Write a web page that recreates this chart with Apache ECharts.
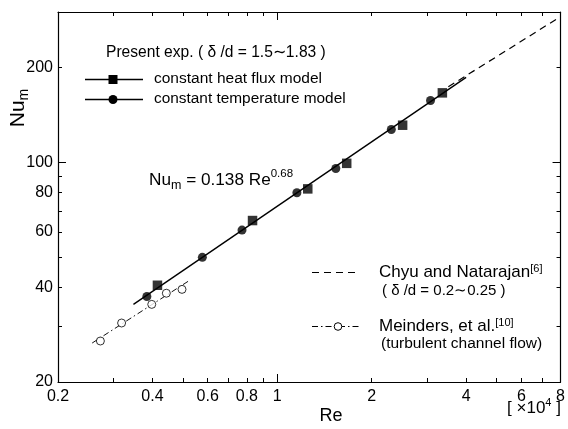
<!DOCTYPE html>
<html>
<head>
<meta charset="utf-8">
<script src="https://cdn.jsdelivr.net/npm/echarts@6/dist/echarts.min.js"></script>
<style>
  html, body { margin: 0; padding: 0; background: #fff; }
  #chart { width: 568px; height: 429px; }
</style>
</head>
<body>
<div id="chart"></div>
<script>
// Mean Nusselt number vs Reynolds number (Re in units of 10^4), log-log
const heatFluxRe = [0.415, 0.834, 1.251, 1.665, 2.51, 3.36];
const heatFluxNu = [40.6, 65.2, 82.2, 99.1, 131, 166];

const tempRe = [0.384, 0.577, 0.772, 1.155, 1.537, 2.31, 3.08];
const tempNu = [37.4, 49.8, 60.8, 79.9, 95.4, 127, 157];

const meindersRe = [0.273, 0.319, 0.398, 0.443, 0.497];
const meindersNu = [27.0, 30.8, 35.3, 38.3, 39.4];
const meindersLineRe = [0.257, 0.520];
const meindersLineNu = [26.6, 41.8];

// correlation Nu_m = 0.138 Re^0.68, end points
const fitRe = [0.348, 4.0];
const fitNu = [35.3, 186];

const chyuRe = [3.51, 8];
const chyuNu = [173.5, 290];

// axis ticks
const xLabelTicks = [0.2, 0.4, 0.6, 0.8, 1, 2, 4, 6, 8];
const xMinorTicks = [0.3, 0.4, 0.5, 0.6, 0.7, 0.8, 0.9, 2, 3, 4, 5, 6, 7];
const xDecadeTicks = [1];
const yLabelTicks = [20, 40, 60, 80, 100, 200];
const yMinorTicks = [30, 40, 50, 60, 70, 80, 90, 200];
const yDecadeTicks = [100];

const FONT = '"Liberation Sans", Arial, Helvetica, sans-serif';
const X_MIN = 0.2, X_MAX = 8, Y_MIN = 20, Y_MAX = 300;

const pair = (xs, ys) => xs.map((x, i) => [x, ys[i]]);

function makeAxis(kind, position, opts) {
  const isX = kind === 'x';
  return {
    type: 'log',
    logBase: 10,
    position: position,
    min: isX ? X_MIN : Y_MIN,
    max: isX ? X_MAX : Y_MAX,
    splitLine: { show: false },
    axisLine: { show: opts.line, onZero: false, lineStyle: { color: '#000', width: 1.2 } },
    axisTick: {
      show: true,
      inside: true,
      length: opts.tickLen,
      customValues: opts.ticks,
      lineStyle: { color: '#000', width: 1 }
    },
    axisLabel: opts.labels ? {
      show: true,
      customValues: opts.labels,
      margin: isX ? 7 : 5,
      color: '#000',
      fontFamily: FONT,
      fontSize: 16,
      formatter: v => String(+v.toPrecision(6))
    } : { show: false },
    minorTick: { show: false },
    minorSplitLine: { show: false }
  };
}

const chart = echarts.init(document.getElementById('chart'), null, { renderer: 'canvas' });

const legendRich = {
  t: { fontFamily: FONT, fontSize: 17, color: '#000' },
  sup: { fontFamily: FONT, fontSize: 11, color: '#000', verticalAlign: 'top', lineHeight: 10 }
};

chart.setOption({
  backgroundColor: '#fff',
  animation: false,
  grid: { left: 58, right: 2, top: 12, bottom: 47 },
  xAxis: [
    makeAxis('x', 'bottom', { line: true, tickLen: 4, ticks: xMinorTicks, labels: xLabelTicks }),
    makeAxis('x', 'bottom', { line: false, tickLen: 8, ticks: xDecadeTicks }),
    makeAxis('x', 'top', { line: true, tickLen: 4, ticks: xMinorTicks }),
    makeAxis('x', 'top', { line: false, tickLen: 8, ticks: xDecadeTicks })
  ],
  yAxis: [
    makeAxis('y', 'left', { line: true, tickLen: 4, ticks: yMinorTicks, labels: yLabelTicks }),
    makeAxis('y', 'left', { line: false, tickLen: 8, ticks: yDecadeTicks }),
    makeAxis('y', 'right', { line: true, tickLen: 4, ticks: yMinorTicks }),
    makeAxis('y', 'right', { line: false, tickLen: 8, ticks: yDecadeTicks })
  ],
  series: [
    {
      name: 'correlation',
      type: 'line',
      data: pair(fitRe, fitNu),
      showSymbol: false,
      lineStyle: { color: '#000', width: 1.4 },
      z: 2
    },
    {
      name: 'Chyu and Natarajan',
      type: 'line',
      data: pair(chyuRe, chyuNu),
      showSymbol: false,
      lineStyle: { color: '#000', width: 1.2, type: [7, 5] },
      z: 2
    },
    {
      name: 'Meinders line',
      type: 'line',
      data: pair(meindersLineRe, meindersLineNu),
      showSymbol: false,
      lineStyle: { color: '#111', width: 1, type: [6, 3, 1.5, 3] },
      z: 2
    },
    {
      name: 'Meinders, et al.',
      type: 'scatter',
      data: pair(meindersRe, meindersNu),
      symbol: 'circle',
      symbolSize: 8,
      itemStyle: { color: '#fff', borderColor: '#000', borderWidth: 1 },
      z: 3
    },
    {
      name: 'constant heat flux model',
      type: 'scatter',
      data: pair(heatFluxRe, heatFluxNu),
      symbol: 'rect',
      symbolSize: 9.5,
      itemStyle: { color: '#000' },
      z: 4
    },
    {
      name: 'constant temperature model',
      type: 'scatter',
      data: pair(tempRe, tempNu),
      symbol: 'circle',
      symbolSize: 9,
      itemStyle: { color: '#000' },
      z: 4
    }
  ],
  graphic: [
    // axis names
    {
      type: 'text', x: 18, y: 108, rotation: Math.PI / 2, z: 10,
      style: {
        text: '{a|Nu}{s|m}', align: 'center', verticalAlign: 'middle',
        rich: {
          a: { fontFamily: FONT, fontSize: 21, color: '#000', lineHeight: 26 },
          s: { fontFamily: FONT, fontSize: 14, color: '#000', verticalAlign: 'bottom', lineHeight: 12 }
        }
      }
    },
    {
      type: 'text', x: 331, y: 416, z: 10,
      style: { text: 'Re', fontFamily: FONT, fontSize: 18, fill: '#000', align: 'center', verticalAlign: 'middle' }
    },
    {
      type: 'text', x: 534, y: 408, z: 10,
      style: {
        text: '{a|[ ×10}{s|4}{a| ]}', align: 'center', verticalAlign: 'middle',
        rich: {
          a: { fontFamily: FONT, fontSize: 17, color: '#000', lineHeight: 22 },
          s: { fontFamily: FONT, fontSize: 11, color: '#000', verticalAlign: 'top', lineHeight: 10 }
        }
      }
    },
    // correlation label
    {
      type: 'text', x: 149, y: 180, z: 10,
      style: {
        text: '{a|Nu}{s|m}{a| = 0.138 Re}{p|0.68}', align: 'left', verticalAlign: 'middle',
        rich: {
          a: { fontFamily: FONT, fontSize: 17.2, color: '#000', lineHeight: 24 },
          s: { fontFamily: FONT, fontSize: 12.5, color: '#000', verticalAlign: 'bottom', lineHeight: 11 },
          p: { fontFamily: FONT, fontSize: 11.5, color: '#000', verticalAlign: 'top', lineHeight: 10 }
        }
      }
    },
    // legend: present experiments
    {
      type: 'text', x: 106, y: 53, z: 10,
      style: { text: 'Present exp. ( δ /d = 1.5∼1.83 )', fontFamily: FONT, fontSize: 15.6, fill: '#000', align: 'left', verticalAlign: 'middle' }
    },
    { type: 'line', z: 10, shape: { x1: 85, y1: 79.5, x2: 143, y2: 79.5 }, style: { stroke: '#000', lineWidth: 1.3 } },
    { type: 'rect', z: 11, shape: { x: 108.5, y: 75, width: 9, height: 9 }, style: { fill: '#000' } },
    {
      type: 'text', x: 154, y: 79, z: 10,
      style: { text: 'constant heat flux model', fontFamily: FONT, fontSize: 15.5, fill: '#000', align: 'left', verticalAlign: 'middle' }
    },
    { type: 'line', z: 10, shape: { x1: 85, y1: 99.5, x2: 143, y2: 99.5 }, style: { stroke: '#000', lineWidth: 1.3 } },
    { type: 'circle', z: 11, shape: { cx: 113, cy: 99.5, r: 4.5 }, style: { fill: '#000' } },
    {
      type: 'text', x: 154, y: 99, z: 10,
      style: { text: 'constant temperature model', fontFamily: FONT, fontSize: 15.4, fill: '#000', align: 'left', verticalAlign: 'middle' }
    },
    // legend: reference data
    { type: 'line', z: 10, shape: { x1: 312, y1: 272.5, x2: 360, y2: 272.5 }, style: { stroke: '#000', lineWidth: 1, lineDash: [7, 5] } },
    {
      type: 'text', x: 379, y: 272, z: 10,
      style: { text: '{t|Chyu and Natarajan}{sup|[6]}', align: 'left', verticalAlign: 'middle', rich: legendRich }
    },
    {
      type: 'text', x: 382, y: 291, z: 10,
      style: { text: '( δ /d = 0.2∼0.25 )', fontFamily: FONT, fontSize: 15, fill: '#000', align: 'left', verticalAlign: 'middle' }
    },
    { type: 'line', z: 10, shape: { x1: 312, y1: 326.5, x2: 360, y2: 326.5 }, style: { stroke: '#000', lineWidth: 1, lineDash: [6, 3, 1.5, 3] } },
    { type: 'circle', z: 11, shape: { cx: 338, cy: 326.5, r: 3.8 }, style: { fill: '#fff', stroke: '#000', lineWidth: 1 } },
    {
      type: 'text', x: 379, y: 326, z: 10,
      style: { text: '{t|Meinders, et al.}{sup|[10]}', align: 'left', verticalAlign: 'middle', rich: legendRich }
    },
    {
      type: 'text', x: 381, y: 344, z: 10,
      style: { text: '(turbulent channel flow)', fontFamily: FONT, fontSize: 15.5, fill: '#000', align: 'left', verticalAlign: 'middle' }
    }
  ]
});
</script>
</body>
</html>
